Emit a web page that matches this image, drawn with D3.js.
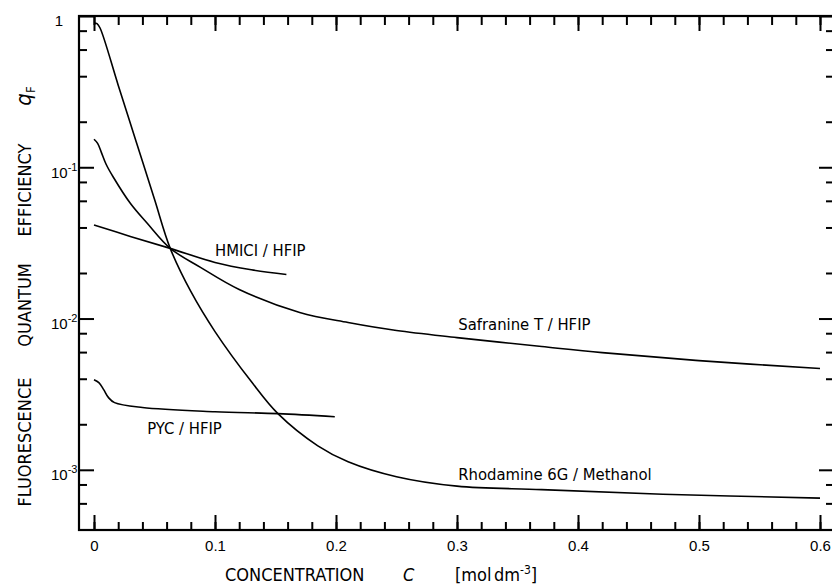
<!DOCTYPE html>
<html>
<head>
<meta charset="utf-8">
<script src="https://cdn.jsdelivr.net/npm/d3@7"></script>
<style>
  body { margin: 0; background: #fff; }
  svg { display: block; font-family: "DejaVu Sans Condensed", "DejaVu Sans", "Liberation Sans Narrow", sans-serif; font-stretch: condensed; }
  .tick line { stroke: #000; stroke-width: 2; }
  .curve { fill: none; stroke: #000; stroke-width: 1.6; }
</style>
</head>
<body>
<div id="chart"></div>
<script>
// concentration C [mol dm-3] and quantum efficiency qF
var rhodamineC = [0, 0.0025, 0.005, 0.02, 0.035, 0.05, 0.063, 0.08, 0.1, 0.13, 0.152, 0.185, 0.21, 0.25, 0.3, 0.37, 0.47, 0.6];
var rhodamineQ = [0.899, 0.89, 0.833, 0.349, 0.1465, 0.0614, 0.0291, 0.0151, 0.0082, 0.00383, 0.00235, 0.00144, 0.00113, 0.0009, 0.00078, 0.00074, 0.00069, 0.00065];

var safranineC = [0, 0.003, 0.006, 0.01, 0.016, 0.03, 0.044, 0.063, 0.088, 0.12, 0.17, 0.21, 0.25, 0.3, 0.37, 0.42, 0.5, 0.6];
var safranineQ = [0.1532, 0.144, 0.126, 0.1047, 0.0859, 0.0578, 0.0426, 0.0291, 0.0218, 0.01556, 0.01096, 0.00941, 0.00833, 0.00748, 0.00653, 0.00595, 0.00527, 0.00467];

var hmiciC = [0, 0.03, 0.063, 0.1, 0.13, 0.159];
var hmiciQ = [0.0416, 0.0349, 0.0291, 0.0235, 0.021, 0.01955];

var pycC = [0, 0.004, 0.008, 0.012, 0.017, 0.04, 0.1, 0.152, 0.199];
var pycQ = [0.00394, 0.00377, 0.00339, 0.003, 0.00278, 0.00258, 0.00242, 0.00235, 0.00224];

var seriesNames = ["Rhodamine 6G / Methanol", "Safranine T / HFIP", "HMICI / HFIP", "PYC / HFIP"];
// where each curve label starts (C, qF)
var labelC = [0.301, 0.301, 0.1, 0.044];
var labelQ = [0.00086, 0.00846, 0.0261, 0.00173];

var xMajor = [0, 0.1, 0.2, 0.3, 0.4, 0.5, 0.6];
var xTickLabels = ["0", "0.1", "0.2", "0.3", "0.4", "0.5", "0.6"];
var xMinor = d3.range(0, 31).map(function(i) { return i * 0.02; });
var yMajor = [0.001, 0.01, 0.1, 1];
var yTickExp = ["-3", "-2", "-1", ""];
var yMinor = [0.0006, 0.0008, 0.002, 0.004, 0.006, 0.008, 0.02, 0.04, 0.06, 0.08, 0.2, 0.4, 0.6, 0.8];

var W = 832, H = 587;
var frame = { left: 79, right: 834, top: 16, bottom: 530 };

var svg = d3.select("#chart").append("svg")
  .attr("width", W)
  .attr("height", H);

var x = d3.scaleLinear().domain([0, 0.6]).range([94, 820]);
var y = d3.scaleLog().domain([0.0004, 1]).range([frame.bottom, frame.top]);

function drawAxis(axis, tx, ty) {
  var g = svg.append("g").attr("transform", "translate(" + tx + "," + ty + ")").call(axis);
  g.select(".domain").remove();
  return g;
}

// bottom and top
drawAxis(d3.axisBottom(x).tickValues(xMinor).tickSize(-8).tickFormat(""), 0, frame.bottom);
var xb = drawAxis(d3.axisBottom(x).tickValues(xMajor).tickSize(-15).tickPadding(10)
  .tickFormat(function(d, i) { return xTickLabels[i]; }), 0, frame.bottom);
xb.selectAll("text").attr("font-size", 15).attr("fill", "#000").style("font-family", null);
drawAxis(d3.axisTop(x).tickValues(xMinor).tickSize(-9).tickFormat(""), 0, frame.top);
drawAxis(d3.axisTop(x).tickValues(xMajor).tickSize(-15).tickFormat(""), 0, frame.top);

// left and right
drawAxis(d3.axisLeft(y).tickValues(yMinor).tickSize(-8).tickFormat(""), frame.left, 0);
var yl = drawAxis(d3.axisLeft(y).tickValues(yMajor).tickSize(-15).tickFormat(""), frame.left, 0);
drawAxis(d3.axisRight(y).tickValues(yMinor).tickSize(-8).tickFormat(""), frame.right, 0);
drawAxis(d3.axisRight(y).tickValues(yMajor).tickSize(-15).tickFormat(""), frame.right, 0);

yl.selectAll(".tick").each(function(d, i) {
  var t = d3.select(this).select("text")
    .attr("font-size", 15).attr("fill", "#000").attr("y", 5)
    .text(null);
  if (yTickExp[i] === "") {
    t.attr("text-anchor", "end").attr("x", -16).text("1");
  } else {
    t.attr("text-anchor", "start").attr("x", -28);
    t.append("tspan").text("10");
    t.append("tspan").attr("font-size", 11).attr("dy", -7).text(yTickExp[i]);
  }
});

svg.append("rect")
  .attr("x", frame.left).attr("y", frame.top)
  .attr("width", frame.right - frame.left).attr("height", frame.bottom - frame.top)
  .attr("fill", "none").attr("stroke", "#000").attr("stroke-width", 2.2);

// curves
var line = d3.line()
  .x(function(d) { return x(d[0]); })
  .y(function(d) { return y(d[1]); })
  .curve(d3.curveCatmullRom.alpha(0.5));

var series = [
  d3.zip(rhodamineC, rhodamineQ),
  d3.zip(safranineC, safranineQ),
  d3.zip(hmiciC, hmiciQ),
  d3.zip(pycC, pycQ)
];

svg.append("g").selectAll("path")
  .data(series)
  .enter().append("path")
  .attr("class", "curve")
  .attr("d", line);

svg.append("g").selectAll("text")
  .data(seriesNames)
  .enter().append("text")
  .attr("x", function(d, i) { return x(labelC[i]); })
  .attr("y", function(d, i) { return y(labelQ[i]); })
  .attr("font-size", 16.5)
  .text(function(d) { return d; });

// x title
var xt = svg.append("text").attr("y", 581).attr("font-size", 18);
xt.append("tspan").attr("x", 225).text("CONCENTRATION");
xt.append("tspan").attr("x", 403).attr("font-style", "italic").text("C");
xt.append("tspan").attr("x", 455).text("[mol");
xt.append("tspan").attr("x", 494).text("dm");
xt.append("tspan").attr("dy", -7).attr("font-size", 12).text("-3");
xt.append("tspan").attr("dy", 7).text("]");

// y title, rotated word by word
var yWords = [["FLUORESCENCE", 442], ["QUANTUM", 305], ["EFFICIENCY", 190]];
yWords.forEach(function(w) {
  svg.append("text")
    .attr("transform", "translate(31," + w[1] + ") rotate(-90)")
    .attr("text-anchor", "middle")
    .attr("font-size", 18)
    .text(w[0]);
});
var qf = svg.append("text")
  .attr("transform", "translate(31,96) rotate(-90)")
  .attr("text-anchor", "middle")
  .attr("font-size", 22);
qf.append("tspan").attr("font-style", "italic").text("q");
qf.append("tspan").attr("font-size", 13).attr("dy", 4).text("F");
</script>
</body>
</html>
